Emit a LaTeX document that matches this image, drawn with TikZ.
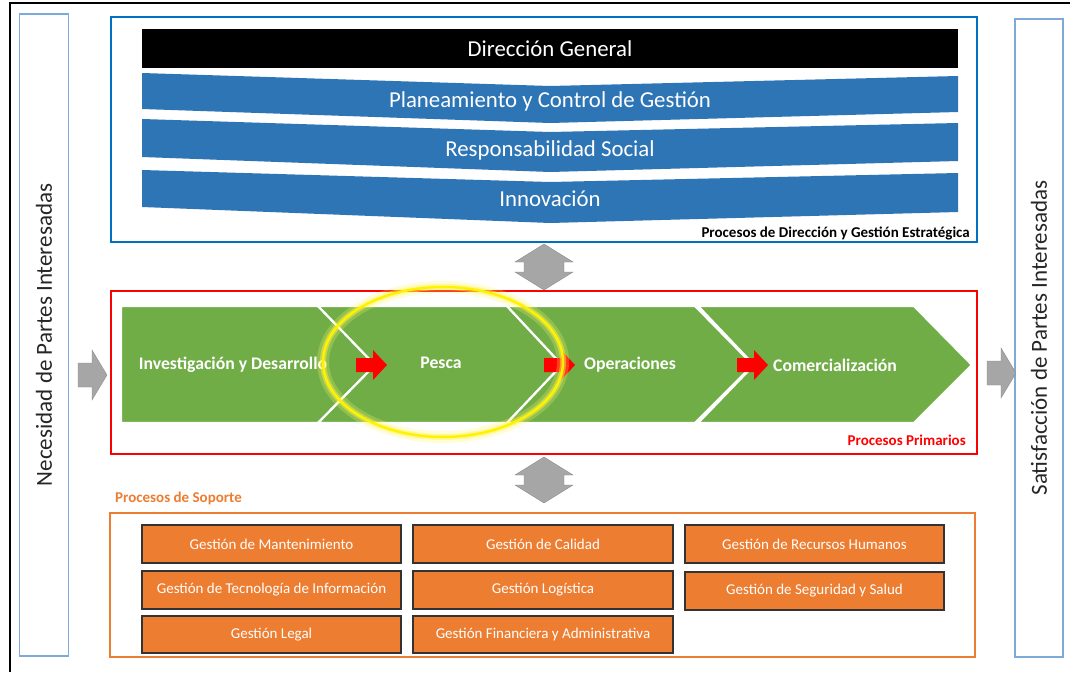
\documentclass[tikz,border=0pt]{standalone}
\usepackage{fontspec}
\setmainfont{Carlito}
\definecolor{dirblue}{HTML}{2E75B6}
\definecolor{frameblue}{HTML}{0070C0}
\definecolor{sideblue}{HTML}{7EA9DB}
\definecolor{pgreen}{HTML}{70AD47}
\definecolor{porange}{HTML}{ED7D31}
\definecolor{agray}{HTML}{A6A6A6}
\definecolor{sidetext}{HTML}{262626}
\begin{document}
\begin{tikzpicture}[x=1pt,y=-1pt,
  sidepanel/.style={draw=sideblue,line width=1.2pt,rotate=90,minimum height=49pt,inner sep=0pt,text=sidetext,font=\fontsize{23}{27}\selectfont},
  bannertext/.style={text=white,inner sep=0pt,font=\fontsize{22.8}{27}\selectfont},
  greentext/.style={text=white,inner sep=0pt,font=\fontsize{17.7}{21}\selectfont\bfseries},
  smalllabel/.style={inner sep=0pt,font=\fontsize{15}{17}\selectfont\bfseries},
  supbox/.style={fill=porange,draw=black!80,line width=1.3pt,text=white,minimum width=259pt,minimum height=38pt,inner sep=0pt,font=\fontsize{15}{18}\selectfont},
  chev/.style={fill=pgreen,draw=white,line width=2.2pt,line join=miter},
  updown/.pic={\fill[agray,draw=agray!85!black,line width=0.4pt] (0,0) -- (29,18) -- (20,18) -- (20,28) -- (29,28) -- (0,46) -- (-29,28) -- (-20,28) -- (-20,18) -- (-29,18) -- cycle;},
  grayright/.pic={\fill[agray,draw=agray!85!black,line width=0.4pt] (0,-12) -- (14,-12) -- (14,-25) -- (29,0) -- (14,25) -- (14,12) -- (0,12) -- cycle;},
  redarrow/.pic={\fill[red] (0,-7) -- (17,-7) -- (17,-15) -- (31,0) -- (17,15) -- (17,7) -- (0,7) -- cycle;}
]
\useasboundingbox (0,0) rectangle (1070,672);
\fill[white] (0,0) rectangle (1070,672);
\draw[line width=1.5pt] (10,672) -- (10,3) -- (1070,3);

% side panels
\node[sidepanel,minimum width=642pt] (need) at (44,335) {Necesidad de Partes Interesadas};
\node[sidepanel,minimum width=638pt,minimum height=48pt] (sat) at (1039,338) {Satisfacción de Partes Interesadas};

% strategic box
\node[draw=frameblue,line width=2pt,minimum width=866pt,minimum height=225pt,inner sep=0pt] (dir) at (544,129.5) {};
\node[fill=black,text=white,minimum width=816pt,minimum height=39pt,inner sep=0pt,font=\fontsize{22.8}{27}\selectfont] (dg) at (550,48.5) {Dirección General};
\fill[dirblue] (142,73) -- (550,86) -- (958,76) -- (958,112) -- (550,123) -- (142,109) -- cycle;
\node[bannertext] (plan) at (550,101) {Planeamiento y Control de Gestión};
\fill[dirblue] (142,119) -- (550,132) -- (958,123) -- (958,161) -- (550,172) -- (142,157) -- cycle;
\node[bannertext] (resp) at (550,150) {Responsabilidad Social};
\fill[dirblue] (142,170) -- (550,182) -- (958,173) -- (958,212) -- (550,223) -- (142,207) -- cycle;
\node[bannertext] (inno) at (550,199) {Innovación};
\node[smalllabel,anchor=east] (dirlab) at (970,233) {Procesos de Dirección y Gestión Estratégica};

% up-down arrows
\pic at (544,244) {updown};
\pic at (544,457) {updown};

% primary processes
\node[draw=red,line width=2pt,minimum width=866pt,minimum height=163pt,inner sep=0pt] (prim) at (544,372.5) {};
\path[chev] (121,306) -- (318,306) -- (375,365) -- (318,423) -- (121,423) -- cycle;
\path[chev] (318,306) -- (507,306) -- (562,365) -- (507,423) -- (318,423) -- (375,365) -- cycle;
\path[chev] (507,306) -- (695,306) -- (753,365) -- (695,423) -- (507,423) -- (562,365) -- cycle;
\path[chev] (698,306) -- (914,306) -- (972,365) -- (914,423) -- (698,423) -- (754,365) -- cycle;
\node[greentext] (inv) at (233,365) {Investigación y Desarrollo};
\node[greentext] (pes) at (441,363) {Pesca};
\node[greentext] (ope) at (630,365) {Operaciones};
\node[greentext] (com) at (835,365) {Comercialización};
\pic at (356,365) {redarrow};
\pic at (544,365) {redarrow};
\pic at (737,365) {redarrow};
\node[smalllabel,text=red,anchor=east] (primlab) at (966,440) {Procesos Primarios};
\draw[yellow!60,line width=12pt,opacity=0.25] (443,362) ellipse [x radius=120pt,y radius=75pt];
\draw[yellow!70,line width=6pt,opacity=0.45] (443,362) ellipse [x radius=120pt,y radius=75pt];
\draw[yellow,line width=2.5pt] (443,362) ellipse [x radius=120pt,y radius=75pt];

% side arrows
\pic at (78,375) {grayright};
\pic at (987,373) {grayright};

% support processes
\node[smalllabel,text=porange,anchor=west] (suplab) at (115,498) {Procesos de Soporte};
\node[draw=porange,line width=2pt,minimum width=865pt,minimum height=144pt,inner sep=0pt] (sup) at (542.5,585) {};
\node[supbox] (mant) at (271.5,544) {Gestión de Mantenimiento};
\node[supbox] (tec) at (271.5,590) {Gestión de Tecnología de Información};
\node[supbox,minimum height=37pt] (leg) at (271.5,634.5) {Gestión Legal};
\node[supbox,minimum width=260pt] (cal) at (543,544) {Gestión de Calidad};
\node[supbox,minimum width=260pt] (log) at (543,590) {Gestión Logística};
\node[supbox,minimum width=260pt,minimum height=37pt] (fin) at (543,634.5) {Gestión Financiera y Administrativa};
\node[supbox] (rrhh) at (814.5,544) {Gestión de Recursos Humanos};
\node[supbox] (seg) at (814.5,591) {Gestión de Seguridad y Salud};
\end{tikzpicture}
\end{document}
